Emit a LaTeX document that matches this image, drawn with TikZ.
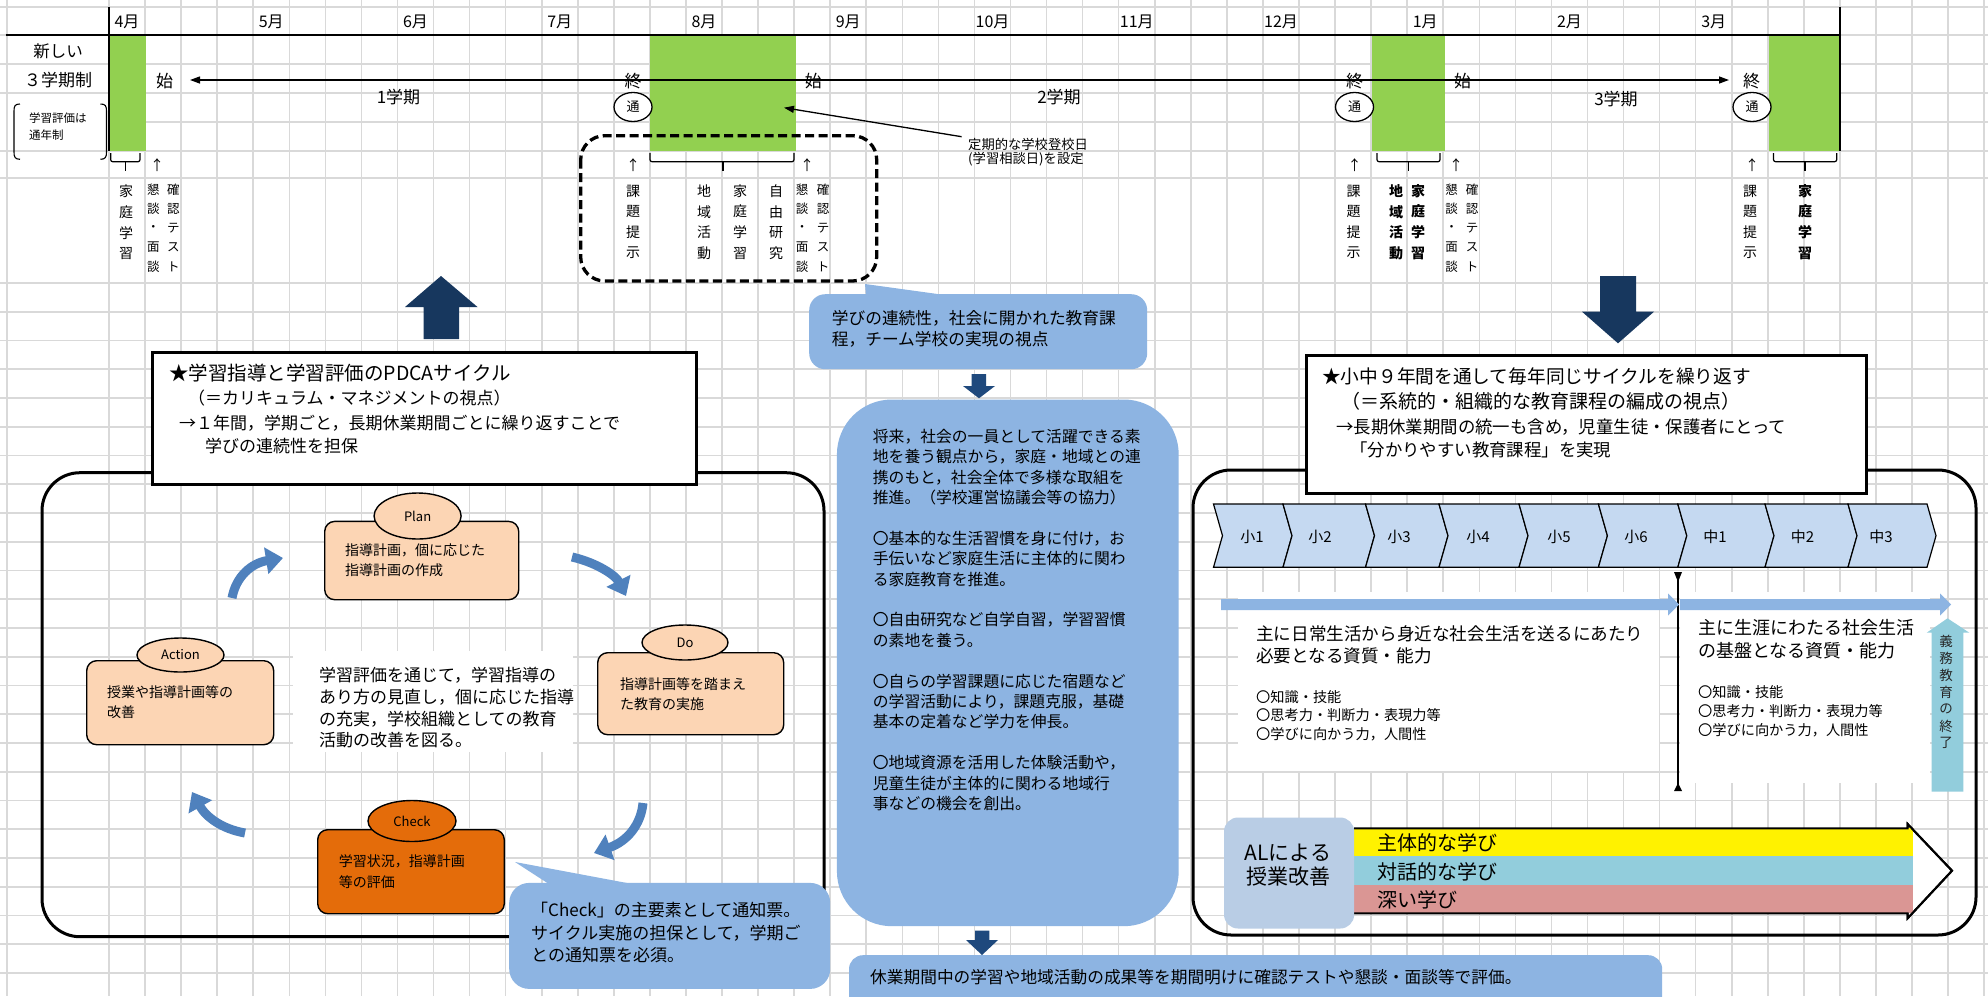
\documentclass[tikz,border=0pt]{standalone}
\usepackage{fontspec}
\setmainfont{Noto Sans CJK JP}
\usetikzlibrary{arrows.meta,shapes.geometric}
\definecolor{gridc}{HTML}{D9D9D9}
\definecolor{grn}{HTML}{92D050}
\definecolor{peach}{HTML}{FCD5B4}
\definecolor{chk}{HTML}{E46C0A}
\definecolor{carr}{HTML}{4F81BD}
\definecolor{cb}{HTML}{8DB4E2}
\definecolor{navy}{HTML}{17375E}
\definecolor{navytwo}{HTML}{1F497D}
\definecolor{chev}{HTML}{C5D9F1}
\definecolor{albox}{HTML}{B9CDE5}
\definecolor{cyanb}{HTML}{92CDDC}
\definecolor{pinkb}{HTML}{DA9694}
\definecolor{gtxt}{HTML}{262626}
\newcommand\fz[2]{\fontsize{#1}{#2}\selectfont}
\newcommand\fVn{\fz{14}{16}}
\newcommand\fVs{\fz{12.5}{14}}
\newcommand\fVb{\bfseries\fz{14}{16}}
\newcommand\vchars[6]{%
  \foreach \vc [count=\ii from 0] in {#6}
    \node[inner sep=0,#5] (#1-\ii) at ({#2},{#3+#4*\ii}) {\vc};}
\newcommand\tlbrace[3]{%
  \draw[line width=1.2,rounded corners=2] (#1,153) -- (#1,161.7) -- (#2,161.7) -- (#2,153);
  \draw[line width=1.2] (#3,161.7) -- (#3,171);}
\tikzset{
  gl/.style={draw=gridc,line width=1.6},
  tx/.style={inner sep=0,anchor=west},
  para/.style={inner sep=0,anchor=north west,align=left},
  pbox/.style={draw,line width=1.4,fill=peach,rounded corners=10,inner sep=0,anchor=north west},
  pell/.style={ellipse,draw,line width=1.4,fill=peach,inner sep=0,font=\fz{13}{15}},
  carrow/.style={draw=carr,line width=9,-{Triangle[width=26pt,length=17pt]}},
  callout/.style={fill=cb,rounded corners=16,inner sep=0,anchor=north west},
  tbox/.style={draw,line width=3,fill=white,inner sep=0,anchor=north west},
  tip/.style={-{Triangle[length=10pt,width=7pt]}},
}
\begin{document}
\begin{tikzpicture}[x=1pt,y=-1pt]
\useasboundingbox (0,0) rectangle (1988,996);
\clip (0,0) rectangle (1988,996);
\fill[white] (0,0) rectangle (1988,996);
% ---------- grid
\foreach \ii in {0,...,52} \draw[gl] ({109+36.06*\ii},0) -- ({109+36.06*\ii},996);
\draw[gl] (6.7,0) -- (6.7,996);
\foreach \y in {6.7,35,64,93,151,178} \draw[gl] (0,\y) -- (1988,\y);
\draw[gl] (109,122) -- (1988,122);
\foreach \ii in {0,...,24} \draw[gl] (0,{283+28.75*\ii}) -- (1988,{283+28.75*\ii});
% ---------- timeline
\fill[grn] (109,35) rectangle (145.5,151);
\fill[grn] (650.4,35) rectangle (795.5,151);
\fill[grn] (1372,35) rectangle (1444.5,151);
\fill[grn] (1768.5,35) rectangle (1840,151);
\draw[line width=2.2] (5.5,35) -- (1840,35);
\draw[line width=2.2] (109,6.7) -- (109,151);
\draw[line width=2.2] (1840,6.7) -- (1840,151);
\foreach \mlab [count=\ii from 0] in {4月,5月,6月,7月,8月,9月,10月,11月,12月,1月,2月,3月}
  \node[inner sep=0,font=\fz{16}{18}] (m\ii) at ({127+144.25*\ii},22) {\mlab};
\node[inner sep=0,font=\fz{16.5}{18}] (lab1) at (58,51) {新しい};
\node[inner sep=0,font=\fz{17}{19}] (lab2) at (58,80.5) {３学期制};
\node[tx,font=\fz{11.5}{13}] (lab3) at (29,118.3) {学習評価は};
\node[tx,font=\fz{11.5}{13}] (lab4) at (29,135) {通年制};
\draw[line width=1.1] (20,104) .. controls (15,104) and (14,106) .. (14,111) -- (14,152) .. controls (14,157) and (15,159.3) .. (20,159.3);
\draw[line width=1.1] (100.5,104) .. controls (105.5,104) and (106.5,106) .. (106.5,111) -- (106.5,152) .. controls (106.5,157) and (105.5,159.3) .. (100.5,159.3);
\coordinate (ts) at (190,80);
\coordinate (te) at (1729,80);
\draw[line width=1.3,{Triangle[length=10pt,width=7pt]}-{Triangle[length=10pt,width=7pt]}] (ts) -- (te);
\foreach \x/\vc [count=\ii] in {164.7/始,633/終,813.4/始,1354.5/終,1462.5/始,1751.5/終}
  \node[inner sep=0,font=\fz{17}{19}] (se\ii) at (\x,81) {\vc};
\node[inner sep=0,font=\fz{17}{19}] (g1) at (398.5,97) {1学期};
\node[inner sep=0,font=\fz{17}{19}] (g2) at (1059,97) {2学期};
\node[inner sep=0,font=\fz{17}{19}] (g3) at (1616,99) {3学期};
\foreach \x [count=\ii] in {633,1354.5,1752}
  \node[ellipse,draw,line width=1.3,fill=white,minimum width=38,minimum height=29,inner sep=0,font=\fz{13}{15}] (tu\ii) at (\x,107) {通};
\tlbrace{110.7}{140}{125.5}
\tlbrace{650}{794}{723}
\tlbrace{1377}{1440}{1408.7}
\tlbrace{1773.5}{1836.7}{1805}
\foreach \x [count=\ii] in {157,633,807,1354.5,1456,1752}
  \node[inner sep=0,font=\fz{14}{16}] (up\ii) at (\x,165.5) {↑};
\vchars{va}{126}{191.5}{20.7}{font=\fVn}{家,庭,学,習}
\vchars{vb}{153.3}{189.3}{19.4}{font=\fVs}{懇,談,・,面,談}
\vchars{vc}{173.4}{189.3}{19.4}{font=\fVs}{確,認,テ,ス,ト}
\vchars{vd}{633}{191}{20.7}{font=\fVn}{課,題,提,示}
\vchars{ve}{704}{191}{20.7}{font=\fVn}{地,域,活,動}
\vchars{vf}{740}{191}{20.7}{font=\fVn}{家,庭,学,習}
\vchars{vg}{776}{191}{20.7}{font=\fVn}{自,由,研,究}
\vchars{vh}{802}{189.3}{19.4}{font=\fVs}{懇,談,・,面,談}
\vchars{vi}{823}{189.3}{19.4}{font=\fVs}{確,認,テ,ス,ト}
\vchars{vj}{1353.5}{191}{20.7}{font=\fVn}{課,題,提,示}
\vchars{vk}{1396}{191}{20.7}{font=\fVb}{地,域,活,動}
\vchars{vl}{1418}{191}{20.7}{font=\fVb}{家,庭,学,習}
\vchars{vm}{1451.6}{189.3}{19.4}{font=\fVs}{懇,談,・,面,談}
\vchars{vn}{1472}{189.3}{19.4}{font=\fVs}{確,認,テ,ス,ト}
\vchars{vo}{1750}{191}{20.7}{font=\fVn}{課,題,提,示}
\vchars{vp}{1805}{191}{20.7}{font=\fVb}{家,庭,学,習}
\node[para,font=\fz{13.3}{14.3}] (note) at (968,138) {定期的な学校登校日\\(学習相談日)を設定};
\coordinate (ns) at (961.6,136.7);
\coordinate (nt) at (784,107.7);
\draw[line width=1.3,tip] (ns) -- (nt);
\draw[line width=3.3,dash pattern=on 9pt off 4.5pt,rounded corners=24] (580.7,135.7) rectangle (876.7,281);
% ---------- navy arrows
\fill[navy] (441,276) -- (477.5,307) -- (459,307) -- (459,339) -- (423.6,339) -- (423.6,307) -- (405,307) -- cycle;
\fill[navy] (1600,276) -- (1636,276) -- (1636,311.7) -- (1654,311.7) -- (1618,343.3) -- (1582,311.7) -- (1600,311.7) -- cycle;
% ---------- PDCA
\draw[line width=3,rounded corners=38] (42,472.7) rectangle (824,936.7);
\node[tbox,minimum width=543.9,minimum height=132] (pt) at (150.6,350.7) {};
\node[tx,font=\fz{19.5}{22}] (pt1) at (169,372.7) {★学習指導と学習評価のPDCAサイクル};
\node[tx,font=\fz{17}{20}] (pt2) at (188,398) {（＝カリキュラム・マネジメントの視点）};
\node[tx,font=\fz{17}{20}] (pt3) at (179,423) {→１年間，学期ごと，長期休業期間ごとに繰り返すことで};
\node[tx,font=\fz{17}{20}] (pt4) at (205,445.7) {学びの連続性を担保};
\node[pbox,minimum width=194,minimum height=78.3] (plan) at (324,520.7) {};
\node[pell,minimum width=87,minimum height=46] (planl) at (417.6,516) {Plan};
\node[para,font=\fz{14}{20}] (plant) at (345,543.7) {指導計画，個に応じた\\指導計画の作成};
\node[pbox,minimum width=186,minimum height=82] (do) at (597,652) {};
\node[pell,minimum width=86,minimum height=35] (dol) at (685,642.5) {Do};
\node[para,font=\fz{14}{20}] (dot) at (620,677.7) {指導計画等を踏まえ\\た教育の実施};
\node[pbox,minimum width=187,minimum height=84] (act) at (86,660) {};
\node[pell,minimum width=87,minimum height=34] (actl) at (180.5,655) {Action};
\node[para,font=\fz{14}{20}] (actt) at (107,685.7) {授業や指導計画等の\\改善};
\node[pbox,fill=chk,minimum width=186.6,minimum height=84] (chkb) at (317,829) {};
\node[pell,fill=chk,minimum width=88,minimum height=41] (chkl) at (412,821) {Check};
\node[para,font=\fz{14}{21}] (chkt) at (338.6,854.4) {学習状況，指導計画\\等の評価};
\fill[white] (293,651) rectangle (573,752);
\node[para,font=\fz{17}{21.7}] (ctext) at (319,667.3) {学習評価を通じて，学習指導の\\あり方の見直し，個に応じた指導\\の充実，学校組織としての教育\\活動の改善を図る。};
\coordinate (a1s) at (232,598); \coordinate (a1e) at (283,558);
\draw[carrow] (a1s) .. controls (236,576) and (252,563) .. (a1e);
\coordinate (a2s) at (572,557); \coordinate (a2e) at (626,596);
\draw[carrow] (a2s) .. controls (598,563) and (616,576) .. (a2e);
\coordinate (a3s) at (643,803); \coordinate (a3e) at (594,853);
\draw[carrow] (a3s) .. controls (641,824) and (628,841) .. (a3e);
\coordinate (a4s) at (245,833); \coordinate (a4e) at (192,792);
\draw[carrow] (a4s) .. controls (222,829) and (206,817) .. (a4e);
\fill[cb] (515,862) -- (552,886) -- (643,886) -- cycle;
\node[callout,rounded corners=20,minimum width=321,minimum height=106] (chkc) at (509,882.7) {};
\node[para,font=\fz{17}{22.5}] (chkct) at (531,902.4) {「Check」の主要素として通知票。\\サイクル実施の担保として，学期ご\\との通知票を必須。};
% ---------- middle column
\fill[cb] (865,284) -- (866,296) -- (952,296) -- cycle;
\node[callout,minimum width=338,minimum height=75] (mc) at (809,294) {};
\node[para,font=\fz{16.7}{21}] (mct) at (831.7,310.5) {学びの連続性，社会に開かれた教育課\\程，チーム学校の実現の視点};
\fill[navytwo] (971.7,374) -- (986,374) -- (986,386) -- (995,386) -- (979,398.3) -- (963,386) -- (971.7,386) -- cycle;
\node[fill=cb,rounded corners=55,minimum width=341.8,minimum height=526.7,inner sep=0,anchor=north west] (mb) at (836.7,399.3) {};
\node[para,font=\fz{15.8}{20.4}] (mbt) at (872.7,428.9) {将来，社会の一員として活躍できる素\\地を養う観点から，家庭・地域との連\\携のもと，社会全体で多様な取組を\\推進。（学校運営協議会等の協力）\\[20.4pt]〇基本的な生活習慣を身に付け，お\\手伝いなど家庭生活に主体的に関わ\\る家庭教育を推進。\\[20.4pt]〇自由研究など自学自習，学習習慣\\の素地を養う。\\[20.4pt]〇自らの学習課題に応じた宿題など\\の学習活動により，課題克服，基礎\\基本の定着など学力を伸長。\\[20.4pt]〇地域資源を活用した体験活動や，\\児童生徒が主体的に関わる地域行\\事などの機会を創出。};
\fill[navytwo] (975,930.7) -- (989.4,930.7) -- (989.4,940) -- (998,940) -- (982,955) -- (966,940) -- (975,940) -- cycle;
\node[callout,rounded corners=14,minimum width=813.2,minimum height=60] (bc) at (848.8,955) {};
\node[tx,font=\fz{16.7}{19}] (bct) at (870,976.7) {休業期間中の学習や地域活動の成果等を期間明けに確認テストや懇談・面談等で評価。};
% ---------- right panel
\draw[line width=3,rounded corners=38] (1193,470) rectangle (1976,935);
\node[tbox,minimum width=560,minimum height=137.7] (rt) at (1305,354) {};
\node[tx,font=\fz{18.7}{21}] (rt1) at (1322,376.7) {★小中９年間を通して毎年同じサイクルを繰り返す};
\node[tx,font=\fz{19}{21}] (rt2) at (1341,401.7) {（＝系統的・組織的な教育課程の編成の視点）};
\node[tx,font=\fz{17.4}{20}] (rt3) at (1336,426.7) {→長期休業期間の統一も含め，児童生徒・保護者にとって};
\node[tx,font=\fz{17.4}{20}] (rt4) at (1350,450) {「分かりやすい教育課程」を実現};
\foreach \xa/\xb/\lx/\mlab [count=\ii] in {1213.5/1283/1252/小1,1283/1365.5/1320/小2,1365.5/1439/1399/小3,1439/1519/1478/小4,1519/1598.4/1559/小5,1598.4/1677.8/1636/小6,1677.8/1765/1715/中1,1765/1848/1802.5/中2,1848/1927/1881/中3}{
  \draw[fill=chev,line width=1.2] (\xa,504) -- (\xb,504) -- ({\xb+9},535.7) -- (\xb,567.3) -- (\xa,567.3) -- ({\xa+9},535.7) -- cycle;
  \node[inner sep=0,font=\fz{15}{17}] (ch\ii) at (\lx,536.7) {\mlab};
}
\fill[white] (1238,592) rectangle (1659,771);
\fill[white] (1680,592) rectangle (1930,783);
\coordinate (dvt) at (1678,572);
\coordinate (dvb) at (1678,791);
\draw[line width=1.2] (dvt) -- (dvb);
\fill (1674,572) -- (1682,572) -- (1678,582) -- cycle;
\fill (1674,791) -- (1682,791) -- (1678,783) -- cycle;
\fill[cb] (1221,599) -- (1668,599) -- (1668,593.5) -- (1679,604.5) -- (1668,615.5) -- (1668,610) -- (1221,610) -- cycle;
\fill[cb] (1680,599) -- (1940,599) -- (1940,593.5) -- (1951,604.5) -- (1940,615.5) -- (1940,610) -- (1680,610) -- cycle;
\node[para,font=\fz{17.6}{21.7}] (lb1) at (1256,625.4) {主に日常生活から身近な社会生活を送るにあたり\\必要となる資質・能力};
\node[para,font=\fz{14.2}{18.3}] (lb2) at (1256,690.3) {〇知識・技能\\〇思考力・判断力・表現力等\\〇学びに向かう力，人間性};
\node[para,font=\fz{18}{22.8}] (rb1) at (1698,619.4) {主に生涯にわたる社会生活\\の基盤となる資質・能力};
\node[para,font=\fz{14.2}{18.7}] (rb2) at (1698,685.6) {〇知識・技能\\〇思考力・判断力・表現力等\\〇学びに向かう力，人間性};
\fill[cyanb] (1947.5,618.3) -- (1969.3,632.7) -- (1963.3,632.7) -- (1963.3,791.7) -- (1931.7,791.7) -- (1931.7,632.7) -- (1926.7,632.7) -- cycle;
\vchars{gm}{1946}{641.7}{16.85}{font=\fz{13.5}{15},text=gtxt}{義,務,教,育,の,終,了}
% ---------- AL
\filldraw[fill=white,line width=2] (1907.6,824) -- (1952,870.7) -- (1907.6,918.3) -- cycle;
\fill[yellow] (1354,828.3) rectangle (1913,856);
\fill[cyanb] (1354,856) rectangle (1913,885);
\fill[pinkb] (1354,885) rectangle (1913,913.3);
\draw[line width=2] (1354,828.3) -- (1907.6,828.3) -- (1907.6,824) -- (1952,870.7) -- (1907.6,918.3) -- (1907.6,913.3) -- (1354,913.3);
\node[fill=albox,rounded corners=14,minimum width=130.2,minimum height=111,inner sep=0,anchor=north west] (al) at (1223.8,817.3) {};
\node[inner sep=0,align=center,font=\fz{21}{23.4}] (alt) at (1288,865) {ALによる\\授業改善};
\node[tx,font=\fz{20}{22}] (b1) at (1377,843) {主体的な学び};
\node[tx,font=\fz{20}{22}] (b2) at (1377,871.5) {対話的な学び};
\node[tx,font=\fz{20}{22}] (b3) at (1377,900) {深い学び};
\end{tikzpicture}
\end{document}
